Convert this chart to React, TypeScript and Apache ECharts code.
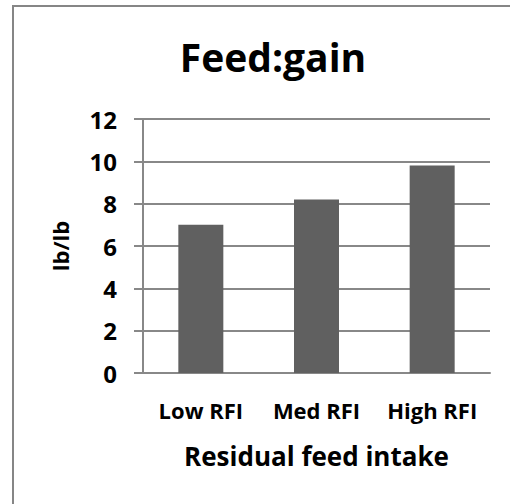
import React, { useEffect, useRef } from "react";
import * as echarts from "echarts";

const categories = ["Low RFI", "Med RFI", "High RFI"];
const feedGain = [7.0, 8.2, 9.8];
const yTicks = { min: 0, max: 12, interval: 2 };

const FONT = "Open Sans";

export default function App() {
  const ref = useRef<HTMLDivElement>(null);
  useEffect(() => {
    if (!ref.current) return;
    const chart = echarts.init(ref.current, undefined, { renderer: "svg" });
    chart.setOption({
      animation: false,
      backgroundColor: "#ffffff",
      title: {
        text: "Feed:gain",
        left: 268,
        top: 32,
        textAlign: "center",
        textStyle: { fontFamily: FONT, fontWeight: "bold", fontSize: 39, color: "#000" },
      },
      graphic: [
        {
          type: "rect",
          shape: { x: 13, y: 6, width: 600, height: 600 },
          style: { fill: "none", stroke: "#868686", lineWidth: 2 },
          silent: true,
        },
      ],
      grid: { left: 143, right: 20, top: 119, bottom: 131, containLabel: false },
      xAxis: {
        type: "category",
        data: categories,
        name: "Residual feed intake",
        nameLocation: "middle",
        nameGap: 70,
        nameTextStyle: { fontFamily: FONT, fontWeight: "bold", fontSize: 26, color: "#000" },
        axisLine: { show: true, lineStyle: { color: "#888", width: 2 } },
        axisTick: { show: false },
        axisLabel: {
          interval: 0,
          fontFamily: FONT,
          fontWeight: "bold",
          fontSize: 22,
          color: "#000",
          margin: 26,
        },
      },
      yAxis: {
        type: "value",
        min: yTicks.min,
        max: yTicks.max,
        interval: yTicks.interval,
        name: "lb/lb",
        nameLocation: "middle",
        nameRotate: 90,
        nameGap: 72,
        nameTextStyle: { fontFamily: FONT, fontWeight: "bold", fontSize: 22, color: "#000" },
        axisLine: { show: true, lineStyle: { color: "#888", width: 2 } },
        axisTick: { show: true, length: 9, lineStyle: { color: "#888", width: 2 } },
        axisLabel: { fontFamily: FONT, fontWeight: "bold", fontSize: 24, color: "#000", margin: 26 },
        splitLine: { show: true, lineStyle: { color: "#888", width: 2 } },
      },
      series: [
        {
          type: "bar",
          data: feedGain,
          barWidth: 45,
          itemStyle: { color: "#606060" },
        },
      ],
    });
    return () => chart.dispose();
  }, []);
  return (
    <div
      ref={ref}
      style={{ position: "fixed", left: 0, top: 0, width: 510, height: 504 }}
    />
  );
}
